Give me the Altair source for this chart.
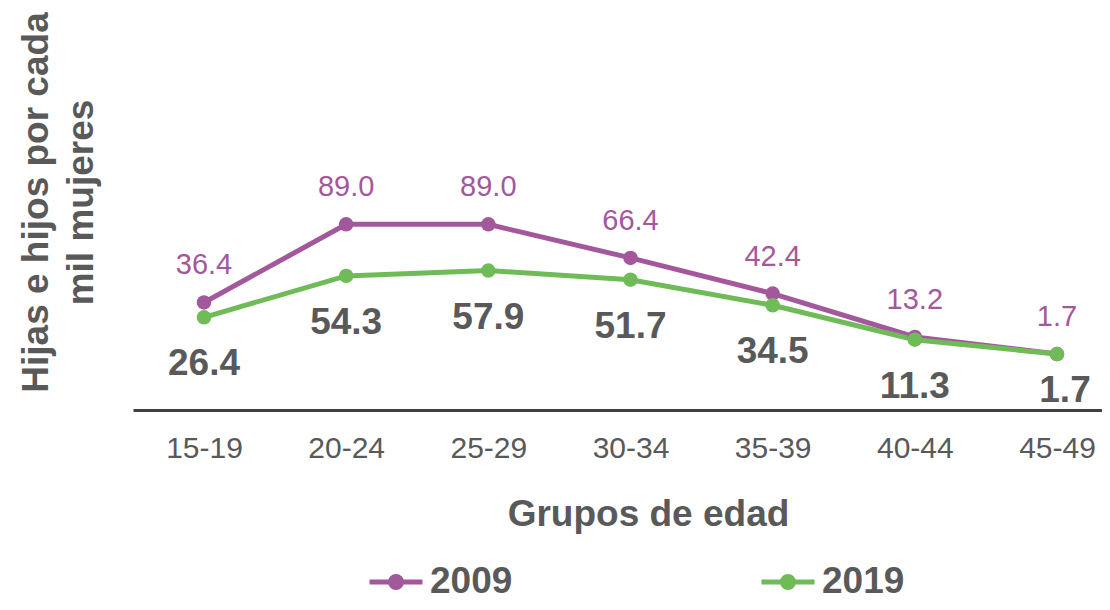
import altair as alt
import pandas as pd

groups = ["15-19", "20-24", "25-29", "30-34", "35-39", "40-44", "45-49"]
years = ["2009", "2019"]
v2009 = [36.4, 89.0, 89.0, 66.4, 42.4, 13.2, 1.7]
v2019 = [26.4, 54.3, 57.9, 51.7, 34.5, 11.3, 1.7]
colors = ["#A4589C", "#6FBB58"]

rows = []
for g, a, b in zip(groups, v2009, v2019):
    rows.append({"grupo": g, "year": "2009", "value": a})
    rows.append({"grupo": g, "year": "2019", "value": b})
df = pd.DataFrame(rows)

FONT = "Liberation Sans"
GRAY = "#595959"
LAST = groups[-1]

x = alt.X(
    "grupo:N",
    sort=groups,
    scale=alt.Scale(type="point", padding=0.408, align=0.612),
    axis=alt.Axis(
        title="Grupos de edad",
        titleFont=FONT, titleFontSize=37, titleFontWeight="bold", titleColor=GRAY,
        titleX=515, titleY=115, titleAlign="center", titleBaseline="alphabetic",
        labelFont=FONT, labelFontSize=30, labelColor=GRAY, labelPadding=23, labelAngle=0,
        ticks=False, tickSize=0, grid=False,
        domainColor="#404040", domainWidth=3,
    ),
)
y = alt.Y(
    "value:Q",
    scale=alt.Scale(domain=[-36, 100], nice=False, zero=False),
    axis=alt.Axis(
        title=["Hijas e hijos por cada", "mil mujeres"],
        titleFont=FONT, titleFontSize=37, titleFontWeight="bold", titleColor=GRAY,
        titleAngle=270, titleAlign="center", titleBaseline="alphabetic",
        titleX=-86, titleY=-6, titleLineHeight=45,
        labels=False, ticks=False, domain=False, grid=False,
    ),
)

sym = ("M-1,0L1,0"
       "M0.2075,0A0.2075,0.2075,0,1,1,-0.2075,0A0.2075,0.2075,0,1,1,0.2075,0"
       "M0.0755,0A0.0755,0.0755,0,1,1,-0.0755,0A0.0755,0.0755,0,1,1,0.0755,0")

line = alt.Chart(df).mark_line(strokeWidth=5).encode(
    x=x, y=y,
    color=alt.Color(
        "year:N",
        scale=alt.Scale(domain=years, range=colors),
        legend=alt.Legend(
            title=None, orient="none", legendX=234, legendY=345,
            direction="horizontal", symbolType=sym, symbolSize=2809,
            symbolStrokeWidth=5, labelFont=FONT, labelFontSize=37,
            labelFontWeight="bold", labelColor=GRAY, labelOffset=5,
            columnPadding=238, padding=0,
        ),
    ),
)

pts = alt.Chart(df).mark_circle(size=210, opacity=1).encode(
    x=x, y=y,
    fill=alt.Fill("year:N", scale=alt.Scale(domain=years, range=colors), legend=None),
)

txt = alt.Text("value:Q", format=".1f")

lab09 = alt.Chart(df).transform_filter("datum.year == '2009'").mark_text(
    dy=-37, fontSize=29, font=FONT, color=colors[0]
).encode(x=x, y=y, text=txt)

lab19 = alt.Chart(df).transform_filter(
    f"datum.year == '2019' && datum.grupo != '{LAST}'"
).mark_text(
    dy=47, fontSize=37, font=FONT, fontWeight="bold", color=GRAY
).encode(x=x, y=y, text=txt)

lab19_last = alt.Chart(df).transform_filter(
    f"datum.year == '2019' && datum.grupo == '{LAST}'"
).mark_text(
    dy=37, dx=8, fontSize=37, font=FONT, fontWeight="bold", color=GRAY
).encode(x=x, y=y, text=txt)

chart = alt.layer(line, pts, lab09, lab19, lab19_last).properties(
    width=969, height=202,
    autosize=alt.AutoSizeParams(type="none"),
    padding={"left": 125, "top": 200, "right": 0, "bottom": 191},
    background="white",
).configure_view(stroke=None)

chart.save("out.html", embed_options={"renderer": "svg", "actions": False})
